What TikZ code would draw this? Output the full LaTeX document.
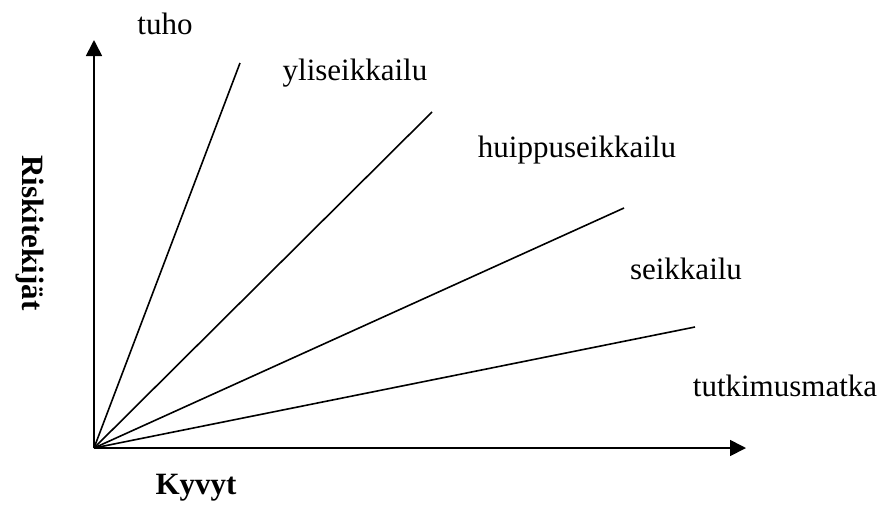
\documentclass[tikz,border=0pt]{standalone}
\usepackage{fontspec}
\setmainfont{Liberation Serif}
\usetikzlibrary{arrows.meta}
\begin{document}
\begin{tikzpicture}[x=1pt,y=-1pt,
  lbl/.style={font=\fontsize{31}{36}\selectfont,inner sep=0pt},
  ax/.style={line width=1.7pt,-{Triangle[length=16pt,width=16pt]}},
  ray/.style={line width=1.6pt}]
\useasboundingbox (0,0) rectangle (882,523);
\coordinate (o) at (94,448);
\coordinate (ytip) at (94,40);
\coordinate (xtip) at (746,448);
\coordinate (r1) at (240,63);
\coordinate (r2) at (432,112);
\coordinate (r3) at (624,208);
\coordinate (r4) at (695,327);
\draw[ax] (o) -- (ytip);
\draw[ax] (o) -- (xtip);
\draw[ray] (o) -- (r1);
\draw[ray] (o) -- (r2);
\draw[ray] (o) -- (r3);
\draw[ray] (o) -- (r4);
\node[lbl] (tuho) at (165,24) {tuho};
\node[lbl] (yli) at (355,73) {yliseikkailu};
\node[lbl] (huippu) at (577,150) {huippuseikkailu};
\node[lbl] (seik) at (686,269) {seikkailu};
\node[lbl] (tutk) at (785,386) {tutkimusmatka};
\node[lbl,font=\fontsize{31}{36}\selectfont\bfseries] (kyvyt) at (196,488) {Kyvyt};
\node[lbl,font=\fontsize{31}{36}\selectfont\bfseries,rotate=-90] (risk) at (30,233) {Riskitekijät};
\end{tikzpicture}
\end{document}
